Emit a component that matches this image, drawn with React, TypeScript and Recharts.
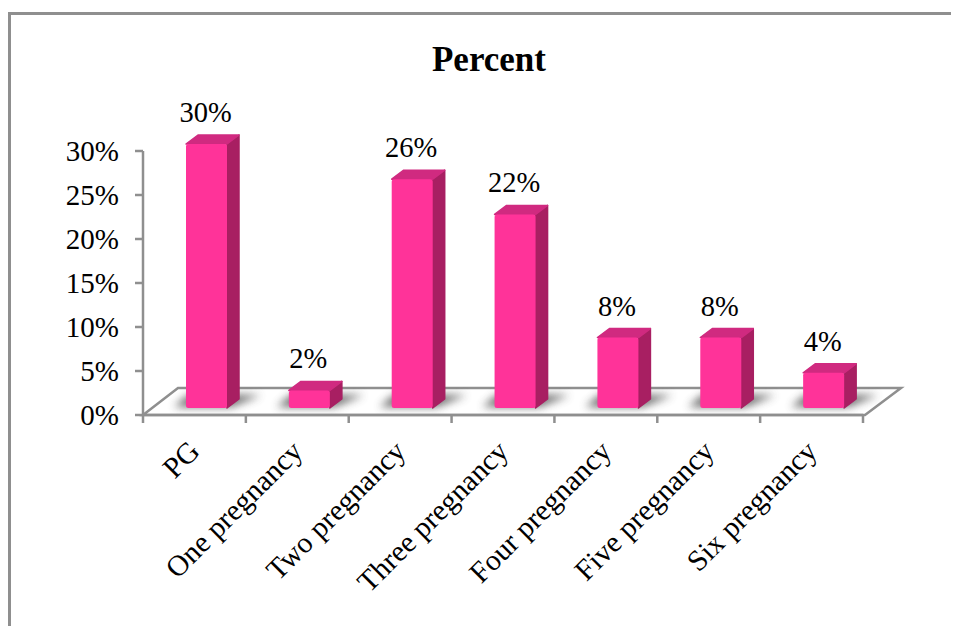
/**
 * Percent by number of pregnancies - 3D style column chart
 */

import React from 'react';
import { BarChart, Bar, XAxis, YAxis, LabelList, usePlotArea } from 'recharts';

const categories = ['PG', 'One pregnancy', 'Two pregnancy', 'Three pregnancy', 'Four pregnancy', 'Five pregnancy', 'Six pregnancy'];
const percents = [30, 2, 26, 22, 8, 8, 4];
const yTicks = [0, 5, 10, 15, 20, 25, 30];

const chartData = categories.map((name, i) => ({ name, percent: percents[i] }));

const FONT = '"Liberation Serif", "Times New Roman", serif';
const AXIS_GREY = '#8f8f8f';

// floor depth of the fake 3D box
const FLOOR_DX = 35;
const FLOOR_DY = 27;
// bars stand in the middle of the floor
const BAR_DX = 12;
const BAR_DY = 7;
// depth of a single bar
const DEPTH_X = 12;
const DEPTH_Y = 9;

const Floor = () => {
  const plot = usePlotArea();
  if (!plot) return null;
  const left = plot.x;
  const right = plot.x + plot.width;
  const base = plot.y + plot.height;
  return (
    <g>
      <defs>
        <filter id="barShadow" x="-40%" y="-60%" width="180%" height="220%">
          <feGaussianBlur stdDeviation="4" />
        </filter>
      </defs>
      <polygon
        points={`${left},${base} ${left + FLOOR_DX},${base - FLOOR_DY} ${right + FLOOR_DX + 3},${base - FLOOR_DY} ${right + 2},${base}`}
        fill="#ffffff"
        stroke={AXIS_GREY}
        strokeWidth={2.5}
      />
    </g>
  );
};

const Bar3D = (props: any) => {
  const { x, y, width, height } = props;
  const fx = x + BAR_DX;
  const fy = y - BAR_DY;
  const bottom = fy + height;
  const right = fx + width;
  return (
    <g>
      <polygon
        points={`${fx - 12},${bottom - 1} ${right + 4},${bottom - 1} ${right + DEPTH_X + 22},${bottom - DEPTH_Y - 4} ${fx + 2},${bottom - DEPTH_Y - 4}`}
        fill="#5c5c5c"
        opacity={0.9}
        filter="url(#barShadow)"
      />
      <polygon
        points={`${right},${fy} ${right + DEPTH_X},${fy - DEPTH_Y} ${right + DEPTH_X},${bottom - DEPTH_Y} ${right},${bottom}`}
        fill="#a81f62"
        stroke="#a81f62"
        strokeWidth={1.5}
        strokeLinejoin="round"
      />
      <polygon
        points={`${fx},${fy} ${fx + DEPTH_X},${fy - DEPTH_Y} ${right + DEPTH_X},${fy - DEPTH_Y} ${right},${fy}`}
        fill="#d02a80"
        stroke="#d02a80"
        strokeWidth={1.5}
        strokeLinejoin="round"
      />
      <rect x={fx} y={fy} width={width} height={height} rx={2.5} fill="#ff3399" />
    </g>
  );
};

const renderValueLabel = (props: any) => {
  const { x, y, width, value } = props;
  return (
    <text x={x + width / 2 + 11} y={y - 29} textAnchor="middle" fontFamily={FONT} fontSize={28.5} fill="#000000">
      {`${value}%`}
    </text>
  );
};

const CategoryTick = (props: any) => {
  const { x, y, index, payload } = props;
  const step = 720 / categories.length;
  return (
    <g>
      <line x1={x - step / 2} y1={y - 8} x2={x - step / 2} y2={y} stroke={AXIS_GREY} strokeWidth={2.5} />
      {index === categories.length - 1 && (
        <line x1={x + step / 2} y1={y - 8} x2={x + step / 2} y2={y} stroke={AXIS_GREY} strokeWidth={2.5} />
      )}
      <text
        x={x + 7}
        y={y + 30}
        textAnchor="end"
        transform={`rotate(-45 ${x + 7} ${y + 30})`}
        fontFamily={FONT}
        fontSize={29.5}
        fill="#000000"
      >
        {payload.value}
      </text>
    </g>
  );
};

export default function App() {
  return (
    <div style={{ position: 'absolute', left: 0, top: 0, width: 957, height: 626, overflow: 'hidden', background: '#ffffff' }}>
      <div
        style={{
          position: 'absolute',
          left: 8,
          top: 12,
          width: 940,
          height: 620,
          borderLeft: `3px solid ${AXIS_GREY}`,
          borderTop: `3px solid ${AXIS_GREY}`,
        }}
      />
      <div
        style={{
          position: 'absolute',
          left: 0,
          width: 978,
          top: 40,
          textAlign: 'center',
          fontFamily: FONT,
          fontWeight: 'bold',
          fontSize: 35,
          color: '#000000',
        }}
      >
        Percent
      </div>
      <BarChart
        width={957}
        height={626}
        data={chartData}
        margin={{ top: 151, right: 94, bottom: 111, left: 43 }}
        style={{ position: 'absolute', left: 0, top: 0 }}
      >
        <Floor />
        <XAxis
          dataKey="name"
          interval={0}
          height={100}
          tick={<CategoryTick />}
          tickLine={false}
          axisLine={{ stroke: AXIS_GREY, strokeWidth: 2.5 }}
          tickMargin={0}
          tickSize={8}
        />
        <YAxis
          width={100}
          domain={[0, 30]}
          ticks={yTicks}
          tickFormatter={(v: number) => `${v}%`}
          tickSize={8}
          tickMargin={16}
          tick={{ fontFamily: FONT, fontSize: 29, fill: '#000000' }}
          tickLine={{ stroke: AXIS_GREY, strokeWidth: 2.5 }}
          axisLine={{ stroke: AXIS_GREY, strokeWidth: 2.5 }}
        />
        <Bar dataKey="percent" barSize={41} shape={<Bar3D />} isAnimationActive={false}>
          <LabelList dataKey="percent" content={renderValueLabel} />
        </Bar>
      </BarChart>
    </div>
  );
}
